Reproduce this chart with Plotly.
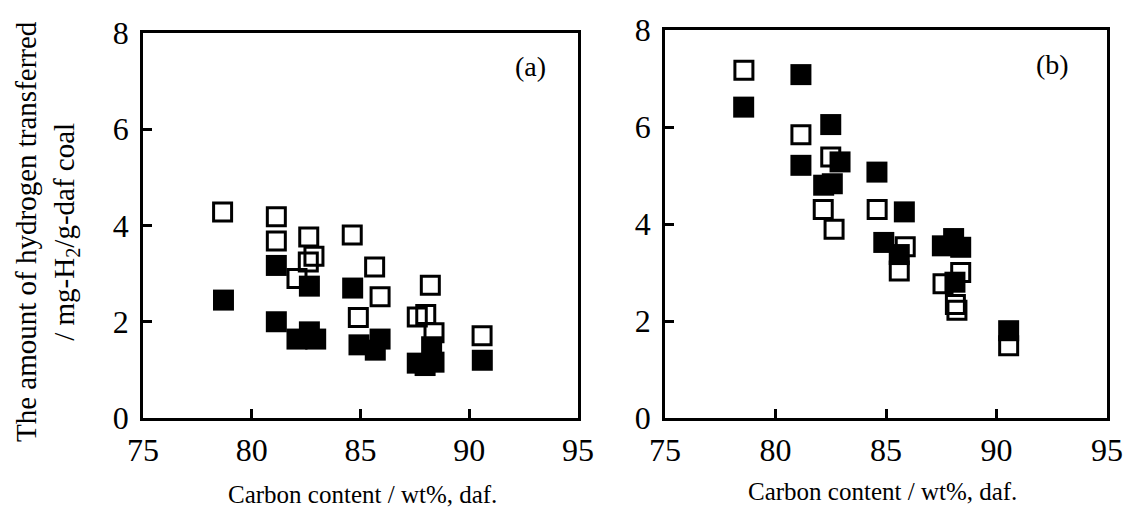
import plotly.graph_objects as go

# Panel (a)
a_open_x = [78.66, 81.13, 81.13, 82.62, 82.86, 82.60, 82.08, 84.62, 85.65, 85.90, 84.90, 88.21, 87.61, 88.00, 88.38, 90.59]
a_open_y = [4.28, 4.18, 3.68, 3.76, 3.36, 3.24, 2.90, 3.80, 3.14, 2.52, 2.09, 2.76, 2.10, 2.15, 1.77, 1.71]
a_fill_x = [78.70, 81.13, 81.13, 82.65, 82.08, 82.65, 82.94, 84.64, 84.93, 85.90, 85.68, 88.27, 87.61, 88.38, 87.97, 90.60]
a_fill_y = [2.45, 3.17, 2.00, 2.74, 1.64, 1.79, 1.64, 2.70, 1.52, 1.64, 1.41, 1.48, 1.14, 1.16, 1.09, 1.20]

# Panel (b)
b_open_x = [78.57, 81.15, 82.50, 82.16, 82.65, 84.60, 85.87, 85.60, 88.38, 87.58, 88.14, 88.21, 90.55]
b_open_y = [7.17, 5.84, 5.38, 4.30, 3.89, 4.30, 3.53, 3.03, 3.00, 2.77, 2.34, 2.22, 1.49]
b_fill_x = [78.56, 81.15, 81.15, 82.50, 82.18, 82.92, 82.57, 84.59, 85.83, 84.90, 85.60, 88.06, 87.55, 88.38, 88.12, 90.55]
b_fill_y = [6.41, 7.08, 5.21, 6.05, 4.80, 5.28, 4.83, 5.07, 4.25, 3.62, 3.37, 3.70, 3.55, 3.52, 2.80, 1.80]

x_ticks = [75, 80, 85, 90, 95]
y_ticks = [0, 2, 4, 6, 8]
x_title = "Carbon content / wt%, daf."
y_title = "The amount of hydrogen transferred<br>/ mg-H<sub>2</sub>/g-daf coal"
panel_labels = ["(a)", "(b)"]

FONT = "Liberation Serif"
W, H = 1126, 513

fig = go.Figure()

open_marker = dict(symbol="square-open", size=18, color="black", line=dict(width=3, color="black"))
fill_marker = dict(symbol="square", size=21, color="black", line=dict(width=0))

fig.add_trace(go.Scatter(x=a_open_x, y=a_open_y, mode="markers", marker=open_marker, xaxis="x", yaxis="y", showlegend=False))
fig.add_trace(go.Scatter(x=a_fill_x, y=a_fill_y, mode="markers", marker=fill_marker, xaxis="x", yaxis="y", showlegend=False))
fig.add_trace(go.Scatter(x=b_open_x, y=b_open_y, mode="markers", marker=open_marker, xaxis="x2", yaxis="y2", showlegend=False))
fig.add_trace(go.Scatter(x=b_fill_x, y=b_fill_y, mode="markers", marker=fill_marker, xaxis="x2", yaxis="y2", showlegend=False))

def px_x(p):
    return p / W

def px_y(p):
    return 1 - p / H

common_x = dict(range=[75, 95], tickvals=x_ticks, ticktext=[str(v) for v in x_ticks],
                showline=True, linewidth=2.5, linecolor="black", mirror=True,
                ticks="inside", ticklen=9, tickwidth=2.5, tickcolor="black",
                showgrid=False, zeroline=False, automargin=False,
                tickfont=dict(family=FONT, size=32, color="black"),
                ticklabelstandoff=2)
common_y = dict(range=[0, 8], tickvals=y_ticks, ticktext=[str(v) for v in y_ticks],
                showline=True, linewidth=2.5, linecolor="black", mirror=True,
                ticks="inside", ticklen=9, tickwidth=2.5, tickcolor="black",
                showgrid=False, zeroline=False, automargin=False,
                tickfont=dict(family=FONT, size=32, color="black"),
                ticklabelstandoff=5)

def ann(text, x, y, size, angle=0):
    return dict(text=text, x=px_x(x), y=px_y(y), xref="paper", yref="paper",
                xanchor="center", yanchor="middle", showarrow=False,
                textangle=angle, align="center",
                font=dict(family=FONT, size=size, color="black"))

fig.update_layout(
    template="none",
    width=W, height=H,
    margin=dict(l=0, r=0, t=0, b=0, pad=0),
    font=dict(family=FONT, color="black"),
    paper_bgcolor="white", plot_bgcolor="white",
    xaxis=dict(domain=[px_x(143), px_x(578)], anchor="y", **common_x),
    yaxis=dict(domain=[px_y(418), px_y(33)], anchor="x", **common_y),
    xaxis2=dict(domain=[px_x(665), px_x(1107)], anchor="y2", **common_x),
    yaxis2=dict(domain=[px_y(418), px_y(30)], anchor="x2", **common_y),
    annotations=[
        ann(panel_labels[0], 530, 66, 28),
        ann(panel_labels[1], 1052, 64, 28),
        ann(x_title, 362, 494, 25),
        ann(x_title, 882, 491, 25),
        ann(y_title, 47, 232, 29, -90),
    ],
)

fig.write_html("out.html")
